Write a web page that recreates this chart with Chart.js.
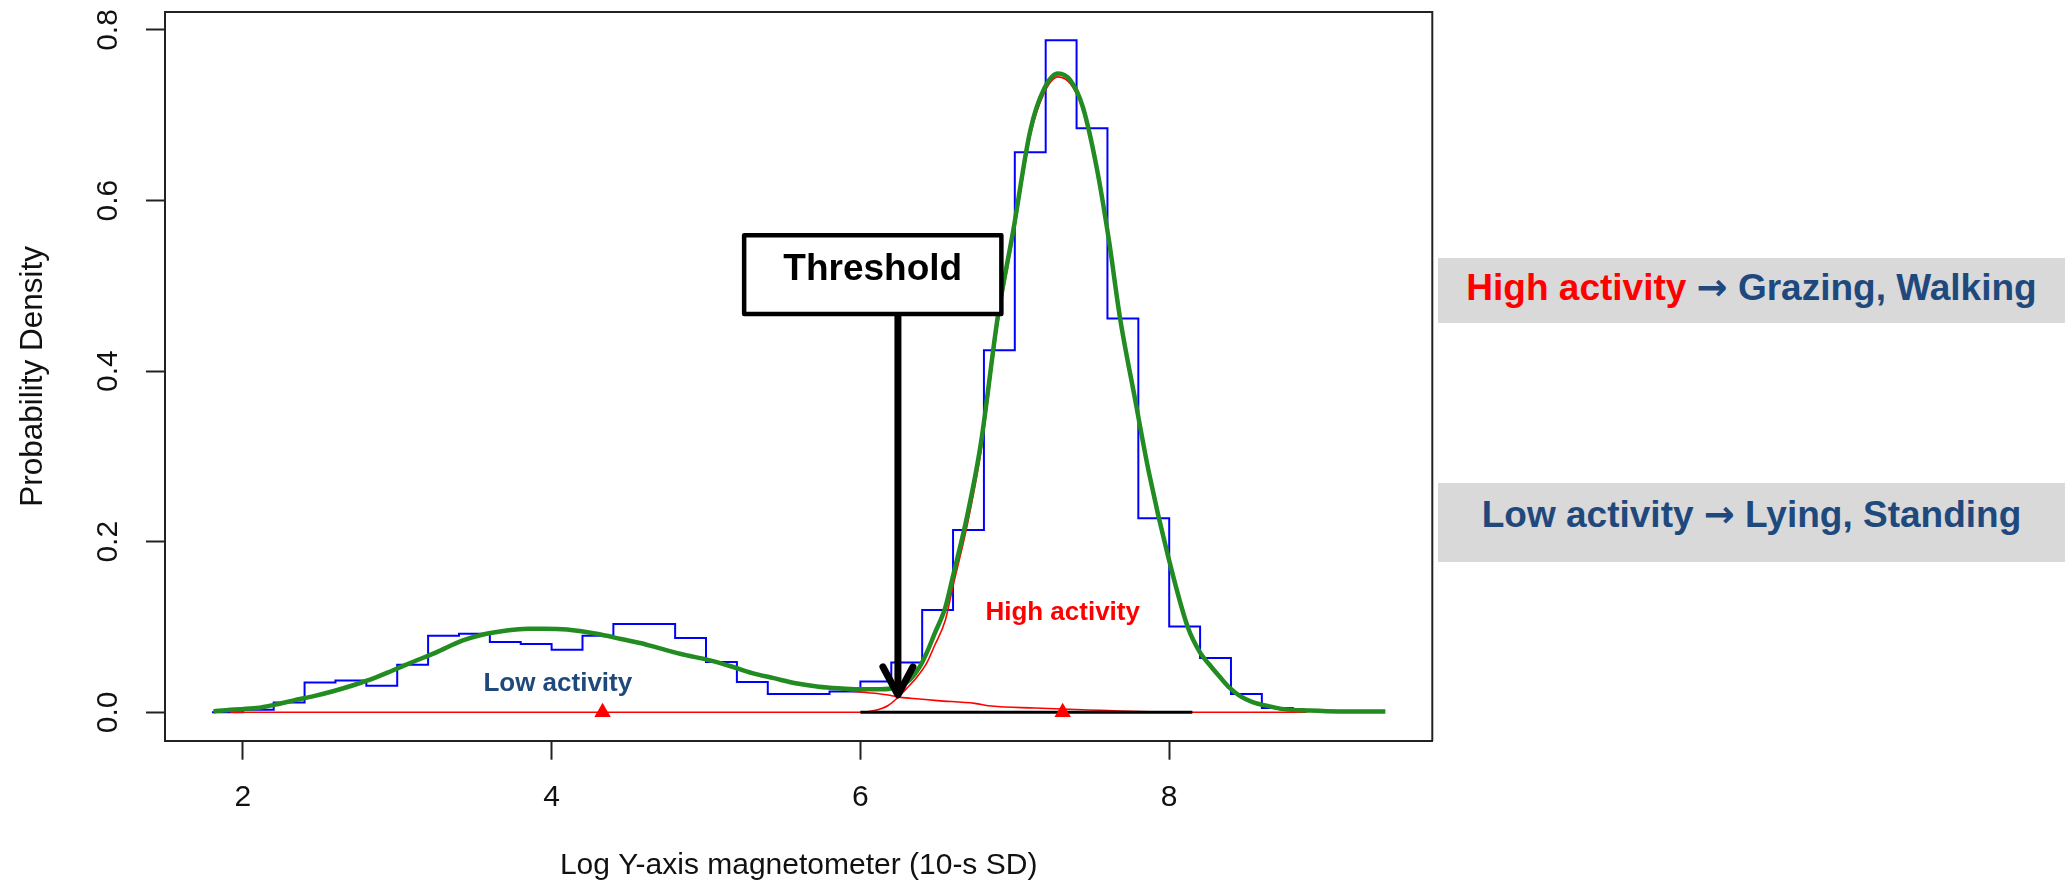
<!DOCTYPE html>
<html><head><meta charset="utf-8">
<script src="https://cdn.jsdelivr.net/npm/chart.js"></script>
<style>
html,body{margin:0;padding:0;background:#fff;}
#wrap{position:relative;width:2065px;height:884px;overflow:hidden;background:#fff;}
#c{position:absolute;left:0;top:0;}
.side{position:absolute;left:1438px;width:627px;background:#D9D9D9;font-family:'Liberation Sans',Arial,sans-serif;font-weight:bold;font-size:37px;color:#1F497D;text-align:center;white-space:nowrap;}
.arr{font-family:'DejaVu Sans',sans-serif;font-weight:bold;}
</style></head><body>
<div id="wrap">
<canvas id="c" width="2065" height="884"></canvas>
<div class="side" style="top:258px;height:65px;line-height:60px;"><span style="color:#FF0000">High activity</span> <span class="arr">→</span> Grazing, Walking</div>
<div class="side" style="top:483px;height:79px;line-height:64px;">Low activity <span class="arr">→</span> Lying, Standing</div>
</div>
<script>
// ---------- data ----------
const binEdges = [1.8,2.0,2.2,2.4,2.6,2.8,3.0,3.2,3.4,3.6,3.8,4.0,4.2,4.4,4.6,4.8,5.0,5.2,5.4,5.6,5.8,6.0,6.2,6.4,6.6,6.8,7.0,7.2,7.4,7.6,7.8,8.0,8.2,8.4,8.6,8.8];
const binDensity = [0,0.003,0.0116,0.035,0.0374,0.031,0.0557,0.0897,0.092,0.0823,0.080,0.0733,0.0897,0.1035,0.1035,0.087,0.059,0.0355,0.0214,0.0214,0.0245,0.0362,0.0584,0.120,0.2138,0.4246,0.6568,0.788,0.6849,0.4617,0.2275,0.1006,0.0636,0.0214,0.005];

const mixX = [1.81,1.92,2.09,2.21,2.33,2.46,2.59,2.72,2.85,2.97,3.10,3.25,3.42,3.55,3.71,3.85,3.95,4.10,4.29,4.45,4.58,4.72,4.87,5.00,5.16,5.30,5.44,5.58,5.73,5.88,6.00,6.10,6.20,6.26,6.32,6.38,6.43,6.48,6.55,6.60,6.69,6.78,6.89,6.99,7.10,7.19,7.28,7.36,7.44,7.53,7.61,7.68,7.78,7.87,7.99,8.12,8.20,8.26,8.33,8.39,8.46,8.54,8.65,8.73,8.91,9.10,9.40];
const mixY = [0.001,0.003,0.005,0.009,0.014,0.019,0.025,0.032,0.040,0.049,0.059,0.070,0.084,0.091,0.096,0.098,0.098,0.097,0.092,0.086,0.081,0.074,0.067,0.062,0.054,0.046,0.040,0.034,0.030,0.028,0.027,0.027,0.028,0.031,0.038,0.052,0.070,0.092,0.123,0.160,0.229,0.315,0.464,0.565,0.682,0.731,0.749,0.741,0.710,0.639,0.553,0.464,0.366,0.280,0.185,0.100,0.070,0.056,0.041,0.029,0.019,0.012,0.007,0.004,0.002,0.001,0.001];

const highX = [1.92,6.00,6.09,6.18,6.24,6.30,6.36,6.43,6.48,6.55,6.60,6.69,6.78,6.89,6.99,7.10,7.19,7.28,7.36,7.44,7.53,7.61,7.68,7.78,7.87,7.99,8.12,8.20,8.26,8.33,8.39,8.46,8.54,8.65,8.73,8.89];
const highY = [0,0,0.002,0.008,0.017,0.028,0.040,0.058,0.078,0.108,0.148,0.218,0.305,0.456,0.558,0.676,0.726,0.745,0.737,0.707,0.636,0.551,0.462,0.365,0.279,0.184,0.099,0.069,0.055,0.040,0.028,0.018,0.011,0.006,0.003,0];

const lowX = [5.80,5.96,6.05,6.19,6.26,6.38,6.50,6.74,6.85,7.13,7.44,8.06,8.89];
const lowY = [0.029,0.0245,0.023,0.020,0.0175,0.0156,0.0137,0.0105,0.0073,0.005,0.003,0,0];

const meanX = [4.33, 7.31];
const meanY = [0, 0];
const segX = [6.0, 8.15];
const segY = [0, 0];

const xTickValues = [2,4,6,8];
const xTickLabels = ['2','4','6','8'];
const yTickValues = [0,0.2,0.4,0.6,0.8];
const yTickLabels = ['0.0','0.2','0.4','0.6','0.8'];

// annotation anchors (data units)
const thresholdX = 6.243;
const arrowTipY = 0.0205;
const thrBox = [5.247, 6.913, 0.467, 0.5593];
const thrTextY = 0.519;
const lowLabel = [4.04, 0.0332];
const highLabel = [7.31, 0.1164];

// ---------- chart ----------
const FONT = "'Liberation Sans', Arial, sans-serif";
Chart.defaults.font.family = FONT;
const pts = (xs, ys) => xs.map((x, i) => ({x, y: ys[i]}));
const histPts = binEdges.map((e, i) => ({x: e, y: i < binDensity.length ? binDensity[i] : 0}));

const frame = {
  id: 'frame',
  beforeDatasetsDraw(chart) {
    const {ctx, chartArea: a} = chart;
    ctx.save();
    ctx.strokeStyle = '#222'; ctx.lineWidth = 2;
    ctx.beginPath();
    ctx.moveTo(a.left, a.top); ctx.lineTo(a.right, a.top); ctx.lineTo(a.right, a.bottom);
    ctx.stroke();
    ctx.restore();
  }
};

const annot = {
  id: 'annot',
  afterDatasetsDraw(chart) {
    const {ctx} = chart;
    const xs = chart.scales.x, ys = chart.scales.y;
    ctx.save();
    // threshold box
    const bx0 = xs.getPixelForValue(thrBox[0]), bx1 = xs.getPixelForValue(thrBox[1]);
    const by0 = ys.getPixelForValue(thrBox[3]), by1 = ys.getPixelForValue(thrBox[2]);
    ctx.fillStyle = '#fff';
    ctx.fillRect(bx0, by0, bx1 - bx0, by1 - by0);
    ctx.lineWidth = 4.5; ctx.strokeStyle = '#000'; ctx.lineJoin = 'round';
    ctx.strokeRect(bx0, by0, bx1 - bx0, by1 - by0);
    ctx.font = 'bold 37px ' + FONT;
    ctx.textAlign = 'center'; ctx.textBaseline = 'middle'; ctx.fillStyle = '#000';
    ctx.fillText('Threshold', (bx0 + bx1) / 2, ys.getPixelForValue(thrTextY));
    // arrow
    const ax = xs.getPixelForValue(thresholdX), tipY = ys.getPixelForValue(arrowTipY);
    ctx.lineWidth = 7; ctx.lineCap = 'round'; ctx.lineJoin = 'round';
    ctx.beginPath(); ctx.moveTo(ax, by1 + 2); ctx.lineTo(ax, tipY - 2); ctx.stroke();
    ctx.beginPath(); ctx.moveTo(ax - 15, tipY - 28); ctx.lineTo(ax, tipY); ctx.lineTo(ax + 15, tipY - 28); ctx.stroke();
    // component labels
    ctx.font = 'bold 26px ' + FONT;
    ctx.fillStyle = '#1F497D';
    ctx.fillText('Low activity', xs.getPixelForValue(lowLabel[0]), ys.getPixelForValue(lowLabel[1]));
    ctx.fillStyle = '#FF0000';
    ctx.fillText('High activity', xs.getPixelForValue(highLabel[0]), ys.getPixelForValue(highLabel[1]));
    ctx.restore();
  }
};

new Chart(document.getElementById('c'), {
  type: 'line',
  data: {
    datasets: [
      {label: 'Component means', data: pts(meanX, meanY), showLine: false, pointStyle: 'triangle', pointRadius: 9.5, pointBackgroundColor: '#FF0000', pointBorderColor: '#FF0000', pointBorderWidth: 0, order: 0},
      {label: 'Mixture density', data: pts(mixX, mixY), borderColor: '#228B22', borderWidth: 4.5, pointRadius: 0, cubicInterpolationMode: 'monotone', order: 1},
      {label: 'Segment', data: pts(segX, segY), borderColor: '#000000', borderWidth: 3, pointRadius: 0, order: 2},
      {label: 'High activity', data: pts(highX, highY), borderColor: '#FF0000', borderWidth: 1.6, pointRadius: 0, cubicInterpolationMode: 'monotone', order: 3},
      {label: 'Low activity', data: pts(lowX, lowY), borderColor: '#FF0000', borderWidth: 1.6, pointRadius: 0, cubicInterpolationMode: 'monotone', order: 3},
      {label: 'Histogram', data: histPts, stepped: 'before', borderColor: '#0000FF', borderWidth: 2, pointRadius: 0, order: 4}
    ]
  },
  options: {
    responsive: false, animation: false, devicePixelRatio: 1,
    layout: {padding: {top: 12, right: 632.7, bottom: 0, left: 0}},
    plugins: {legend: {display: false}, tooltip: {enabled: false}},
    scales: {
      x: {
        type: 'linear', position: 'bottom', min: 1.496, max: 9.704, bounds: 'data',
        afterBuildTicks: s => { s.ticks = xTickValues.map(v => ({value: v})); },
        afterFit: s => { s.height = 143.3; s.paddingLeft = 0; s.paddingRight = 0; },
        ticks: {padding: 20, font: {size: 30}, color: '#111', autoSkip: false, maxRotation: 0, callback: (v, i) => xTickLabels[i]},
        grid: {drawOnChartArea: false, drawTicks: true, tickLength: 19, tickWidth: 2, tickColor: '#222'},
        border: {display: true, color: '#222', width: 2},
        title: {display: true, text: 'Log Y-axis magnetometer (10-s SD)', font: {size: 30}, color: '#111', padding: {top: 0, bottom: 0}}
      },
      y: {
        type: 'linear', position: 'left', min: -0.0333, max: 0.8211, bounds: 'data',
        afterBuildTicks: s => { s.ticks = yTickValues.map(v => ({value: v})); },
        afterFit: s => { s.width = 165; s.paddingTop = 0; s.paddingBottom = 0; },
        ticks: {padding: 16, font: {size: 30}, color: '#111', autoSkip: false, minRotation: 90, maxRotation: 90, crossAlign: 'center', callback: (v, i) => yTickLabels[i]},
        grid: {drawOnChartArea: false, drawTicks: true, tickLength: 19, tickWidth: 2, tickColor: '#222'},
        border: {display: true, color: '#222', width: 2},
        title: {display: true, text: 'Probability Density', font: {size: 31.5}, color: '#111', padding: {top: 14, bottom: 0}}
      }
    }
  },
  plugins: [frame, annot]
});
</script>
</body></html>
